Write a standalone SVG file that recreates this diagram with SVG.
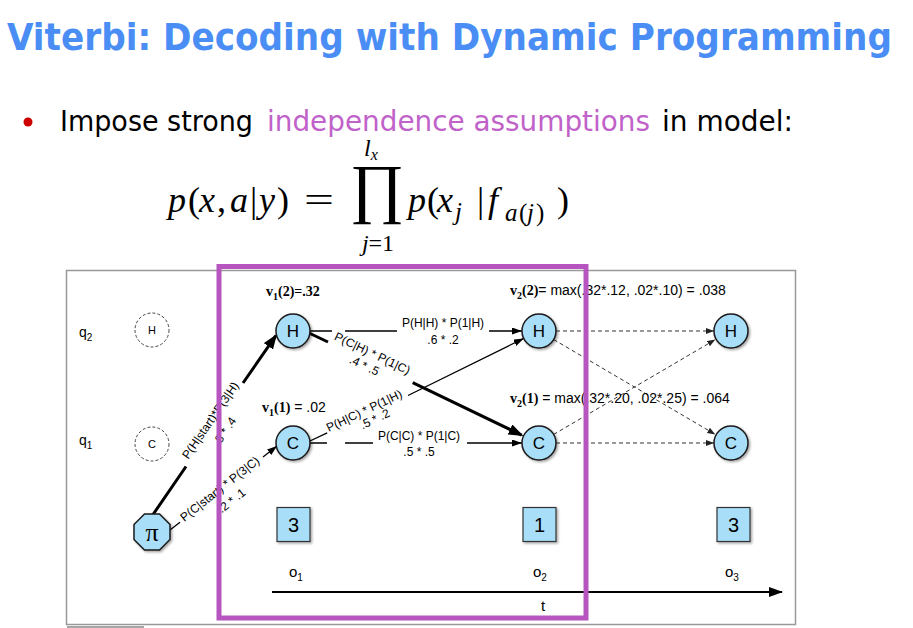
<svg xmlns="http://www.w3.org/2000/svg" width="913" height="628" viewBox="0 0 913 628">
<defs>
<style>
.title{font-family:"DejaVu Sans","Liberation Sans",sans-serif;font-weight:bold;font-stretch:condensed;font-size:38px;fill:#4A8EF5}
.bul{font-family:"DejaVu Sans","Liberation Sans",sans-serif;font-size:29px;fill:#000}
.pur{fill:#C062C9}
.math{font-family:"Liberation Serif","DejaVu Serif",serif;fill:#000}
.it{font-style:italic}
.node circle{fill:#A9DEF9;stroke:#1a1a1a;stroke-width:1.5}
.nl{font-family:"Liberation Sans",Arial,sans-serif;font-size:17px;text-anchor:middle;fill:#000}
.ghost circle{fill:none;stroke:#444;stroke-width:1;stroke-dasharray:3 2}
.gl{font-family:"Liberation Sans",Arial,sans-serif;font-size:11px;text-anchor:middle;fill:#000}
.lab{font-family:"Liberation Sans",Arial,sans-serif;font-size:12px;text-anchor:middle;fill:#000}
.sans{font-family:"Liberation Sans",Arial,sans-serif;font-size:14px;fill:#000}
.ax{font-family:"Liberation Sans",Arial,sans-serif;font-size:15px;fill:#000}
.vb{font-family:"Liberation Serif","Times New Roman",serif;font-weight:bold;font-size:14px;fill:#000}
.thin{fill:none;stroke:#000;stroke-width:1.3}
.thick{fill:none;stroke:#000;stroke-width:3}
.dash{fill:none;stroke:#333;stroke-width:1;stroke-dasharray:4 3}
.obs rect{fill:#A9DEF9;stroke:#333;stroke-width:1.2}
.on{font-family:"Liberation Sans",Arial,sans-serif;font-size:20px;text-anchor:middle;fill:#000}
</style>
<filter id="sh" x="-30%" y="-30%" width="170%" height="170%"><feDropShadow dx="1.5" dy="1.5" stdDeviation="1" flood-color="#000" flood-opacity="0.35"/></filter>
<marker id="a" viewBox="0 0 10 7" refX="10" refY="3.5" markerWidth="10" markerHeight="7" markerUnits="userSpaceOnUse" orient="auto"><path d="M0,0L10,3.5L0,7z" fill="#000"/></marker>
<marker id="aT" viewBox="0 0 15 11" refX="13" refY="5.5" markerWidth="15" markerHeight="11" markerUnits="userSpaceOnUse" orient="auto"><path d="M0,0L15,5.5L0,11z" fill="#000"/></marker>
<marker id="aD" viewBox="0 0 8 6" refX="8" refY="3" markerWidth="8" markerHeight="6" markerUnits="userSpaceOnUse" orient="auto"><path d="M0,0L8,3L0,6z" fill="#222"/></marker>
<marker id="aX" viewBox="0 0 14 10" refX="13" refY="5" markerWidth="14" markerHeight="10" markerUnits="userSpaceOnUse" orient="auto"><path d="M0,0L14,5L0,10z" fill="#000"/></marker>
</defs>
<rect x="0" y="0" width="913" height="628" fill="#fff"/>

<!-- title and bullet -->
<text class="title" x="7" y="50" textLength="885" lengthAdjust="spacingAndGlyphs">Viterbi: Decoding with Dynamic Programming</text>
<circle cx="28" cy="122" r="4.5" fill="#CC0000"/>
<text class="bul" x="60" y="131" textLength="193" lengthAdjust="spacingAndGlyphs">Impose strong</text>
<text class="bul pur" x="267" y="131" textLength="383" lengthAdjust="spacingAndGlyphs">independence assumptions</text>
<text class="bul" x="662" y="131" textLength="131" lengthAdjust="spacingAndGlyphs">in model:</text>

<!-- formula -->
<g id="formula" class="math">
<text y="212" font-size="36"><tspan class="it" x="168">p</tspan><tspan x="188">(</tspan><tspan class="it" x="199">x</tspan><tspan x="217">,</tspan><tspan class="it" x="230">a</tspan><tspan x="250">|</tspan><tspan class="it" x="259">y</tspan><tspan x="277">)</tspan></text>
<text x="304" y="212" font-size="36" textLength="30" lengthAdjust="spacingAndGlyphs">=</text>
<text x="377" y="210" font-size="66" text-anchor="middle">∏</text>
<text x="364" y="156" font-size="24"><tspan class="it">l</tspan><tspan class="it" font-size="16" dy="4">x</tspan></text>
<text x="378" y="251" font-size="24" text-anchor="middle"><tspan class="it">j</tspan>=1</text>
<text y="212" font-size="36"><tspan class="it" x="408">p</tspan><tspan x="427">(</tspan><tspan class="it" x="437">x</tspan><tspan class="it" x="455" y="220" font-size="25">j</tspan><tspan x="477" y="212">|</tspan><tspan class="it" x="488">f</tspan><tspan x="505" y="221" font-size="25"><tspan class="it">a</tspan><tspan x="519">(</tspan><tspan class="it" x="527">j</tspan><tspan x="536">)</tspan></tspan><tspan x="557" y="212">)</tspan></text>
</g>

<!-- frame -->
<rect x="66.5" y="270.5" width="729" height="354" fill="none" stroke="#999" stroke-width="1.5"/>
<line x1="67" y1="627" x2="144" y2="627" stroke="#888" stroke-width="1.5"/>

<!-- state labels -->
<text class="sans" x="79" y="337">q<tspan font-size="10" dy="4">2</tspan></text>
<text class="sans" x="79" y="445">q<tspan font-size="10" dy="4">1</tspan></text>

<!-- connectors -->
<g id="connectors">
<path class="thick" d="M152,516L186,466.5M243,383L275.9,335.6" marker-end="url(#aT)"/>
<path class="thin" d="M170,530L180,522.2M263,457L277,446" marker-end="url(#a)"/>
<path class="thin" d="M310,331L332,331M345,331L397,331M489,331L522,331" marker-end="url(#a)"/>
<path class="thick" d="M309,333L328,342M412.7,382.7L521.7,435.1" marker-end="url(#aT)"/>
<path class="thin" d="M310,441L327.2,432.8M408,395.5L523.7,338.4" marker-end="url(#a)"/>
<path class="thin" d="M310,443L327,443M345,443L373,443M467,443L522,443" marker-end="url(#a)"/>
<path class="dash" d="M556,331L714,331" marker-end="url(#aD)"/>
<path class="dash" d="M553.7,339.6L715.3,434.4" marker-end="url(#aD)"/>
<path class="dash" d="M553.7,434.4L715.3,339.6" marker-end="url(#aD)"/>
<path class="dash" d="M556,443L714,443" marker-end="url(#aD)"/>
<line x1="272" y1="592" x2="782" y2="592" stroke="#000" stroke-width="2" marker-end="url(#aX)"/>
</g>

<!-- edge labels -->
<g id="edge-labels">
<g transform="translate(215.4,423.7) rotate(-55.5)"><text class="lab" x="0" y="-2">P(H|start)*P(3|H)</text><text class="lab" x="-1" y="16">.8 * .4</text></g>
<g transform="translate(220.8,490.1) rotate(-38.1)"><text class="lab" x="0" y="2.5">P(C|start) * P(3|C)</text><text class="lab" x="2" y="19">.2 * .1</text></g>
<text class="lab" x="443" y="327">P(H|H) * P(1|H)</text><text class="lab" x="443" y="344">.6 * .2</text>
<g transform="translate(368.5,361.5) rotate(25.6)"><text class="lab" x="0" y="-5">P(C|H) * P(1|C)</text><text class="lab" x="-2" y="9.5">.4 * .5</text></g>
<g transform="translate(366,414.4) rotate(-25.4)"><text class="lab" x="0" y="0">P(H|C) * P(1|H)</text><text class="lab" x="6" y="12">.5 * .2</text></g>
<text class="lab" x="419" y="440">P(C|C) * P(1|C)</text><text class="lab" x="419" y="456">.5 * .5</text>
</g>

<!-- viterbi values -->
<text class="vb" x="266" y="296">v<tspan font-size="10" dy="4">1</tspan><tspan dy="-4">(2)=.32</tspan></text>
<text x="262" y="412"><tspan class="vb">v<tspan font-size="10" dy="4">1</tspan><tspan dy="-4">(1)</tspan></tspan><tspan class="sans"> = .02</tspan></text>
<text x="510" y="295"><tspan class="vb">v<tspan font-size="10" dy="4">2</tspan><tspan dy="-4">(2)</tspan></tspan><tspan class="sans">= max(.32*.12, .02*.10) = .038</tspan></text>
<text x="510" y="403"><tspan class="vb">v<tspan font-size="10" dy="4">2</tspan><tspan dy="-4">(1)</tspan></tspan><tspan class="sans"> = max(.32*.20, .02*.25) = .064</tspan></text>

<!-- ghost states -->
<g id="q2" class="ghost"><circle cx="152" cy="330" r="17"/><text class="gl" x="152" y="334">H</text></g>
<g id="q1" class="ghost"><circle cx="152" cy="444" r="17"/><text class="gl" x="152" y="448">C</text></g>

<!-- start node -->
<g id="pi"><polygon points="159.5,514 170,524.5 170,539.5 159.5,550 144.5,550 134,539.5 134,524.5 144.5,514" fill="#A9DEF9" stroke="#1a1a1a" stroke-width="1.5" filter="url(#sh)"/><text class="math" x="152" y="541" font-size="26" text-anchor="middle">π</text></g>

<!-- trellis nodes -->
<g id="H1" class="node"><circle cx="293" cy="331" r="17" filter="url(#sh)"/><text class="nl" x="293" y="337">H</text></g>
<g id="C1" class="node"><circle cx="293" cy="443" r="17" filter="url(#sh)"/><text class="nl" x="293" y="449">C</text></g>
<g id="H2" class="node"><circle cx="539" cy="331" r="17" filter="url(#sh)"/><text class="nl" x="539" y="337">H</text></g>
<g id="C2" class="node"><circle cx="539" cy="443" r="17" filter="url(#sh)"/><text class="nl" x="539" y="449">C</text></g>
<g id="H3" class="node"><circle cx="731" cy="331" r="17" filter="url(#sh)"/><text class="nl" x="731" y="337">H</text></g>
<g id="C3" class="node"><circle cx="731" cy="443" r="17" filter="url(#sh)"/><text class="nl" x="731" y="449">C</text></g>

<!-- observations -->
<g id="obs1" class="obs"><rect x="277" y="507.5" width="33" height="34" filter="url(#sh)"/><text class="on" x="293.5" y="532">3</text></g>
<g id="obs2" class="obs"><rect x="523" y="507.5" width="33" height="34" filter="url(#sh)"/><text class="on" x="539.5" y="532">1</text></g>
<g id="obs3" class="obs"><rect x="717" y="507.5" width="33" height="34" filter="url(#sh)"/><text class="on" x="733.5" y="532">3</text></g>
<text class="ax" x="289" y="577">o<tspan font-size="10" dy="4">1</tspan></text>
<text class="ax" x="533" y="577">o<tspan font-size="10" dy="4">2</tspan></text>
<text class="ax" x="725" y="577">o<tspan font-size="10" dy="4">3</tspan></text>
<text class="ax" x="541" y="611">t</text>

<!-- highlight -->
<rect x="219" y="266.5" width="367" height="351.5" fill="none" stroke="#B655BF" stroke-width="5"/>
</svg>
